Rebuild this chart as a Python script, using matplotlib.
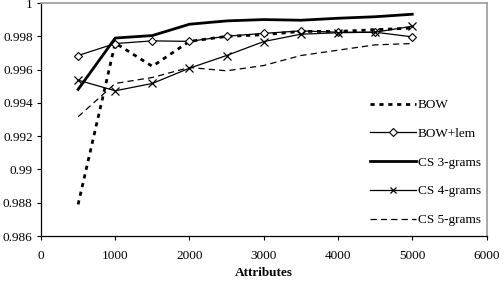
import numpy as np
import matplotlib.pyplot as plt

plt.rcParams['font.family'] = ['Liberation Serif', 'DejaVu Serif']

# 属性数
attributes = [500, 1000, 1500, 2000, 2500, 3000, 3500, 4000, 4500, 5000]

bow = [0.9879, 0.9976, 0.9962, 0.9977, 0.9980, 0.9981, 0.9983, 0.9983, 0.9984, 0.9985]
bow_lem = [0.99685, 0.99757, 0.99773, 0.99770, 0.99801, 0.99818, 0.99833, 0.99825, 0.99825, 0.99797]
cs3 = [0.99481, 0.99790, 0.99805, 0.99873, 0.99893, 0.99901, 0.99897, 0.99909, 0.99918, 0.99933]
cs4 = [0.99537, 0.99473, 0.99517, 0.99609, 0.99685, 0.99769, 0.99813, 0.99822, 0.99825, 0.99861]
cs5 = [0.99317, 0.99517, 0.99553, 0.99613, 0.99593, 0.99625, 0.99685, 0.99717, 0.99749, 0.99757]

xticks = [0, 1000, 2000, 3000, 4000, 5000, 6000]
yticks = [0.986, 0.988, 0.99, 0.992, 0.994, 0.996, 0.998, 1]
ytick_labels = ['0.986', '0.988', '0.99', '0.992', '0.994', '0.996', '0.998', '1']

fig = plt.figure(figsize=(5.04, 2.82), dpi=100)
ax = fig.add_axes([0.0813, 0.163, 0.884, 0.826])

ax.plot(attributes, bow, color='black', lw=2.0, ls=(0, (1.5, 1.7)), label='BOW')
ax.plot(attributes, bow_lem, color='black', lw=0.9, marker='D', ms=4.5,
        mfc='white', mec='black', mew=0.8, label='BOW+lem')
ax.plot(attributes, cs3, color='black', lw=2.0, label='CS 3-grams')
ax.plot(attributes, cs4, color='black', lw=0.9, marker='x', ms=6, mew=0.9, label='CS 4-grams')
ax.plot(attributes, cs5, color='black', lw=0.9, ls=(0, (5, 3.3)), label='CS 5-grams')

ax.set_xlim(0, 6000)
ax.set_ylim(0.986, 1.0)
ax.set_xticks(xticks)
ax.set_yticks(yticks)
ax.set_yticklabels(ytick_labels)
ax.tick_params(labelsize=9.5, length=3, width=0.8, direction='out', pad=7)
ax.tick_params(axis='y', pad=3)

for side in ['top', 'right']:
    ax.spines[side].set_color('#999999')
    ax.spines[side].set_linewidth(1.2)
for side in ['left', 'bottom']:
    ax.spines[side].set_color('black')
    ax.spines[side].set_linewidth(0.9)

ax.set_xlabel('Attributes', fontsize=9.5, fontweight='bold', labelpad=4)

leg = ax.legend(loc='lower right', bbox_to_anchor=(1.01, 0.0), fontsize=9.5,
                frameon=True, framealpha=1, edgecolor='white', fancybox=False,
                handlelength=3.5, handletextpad=0.15, labelspacing=1.25,
                borderaxespad=0.35)
leg.get_frame().set_linewidth(0)
for h in leg.legend_handles:
    if h.get_marker() not in (None, 'None', ''):
        h.set_markersize(4)

fig.savefig('out.png', dpi=100)
